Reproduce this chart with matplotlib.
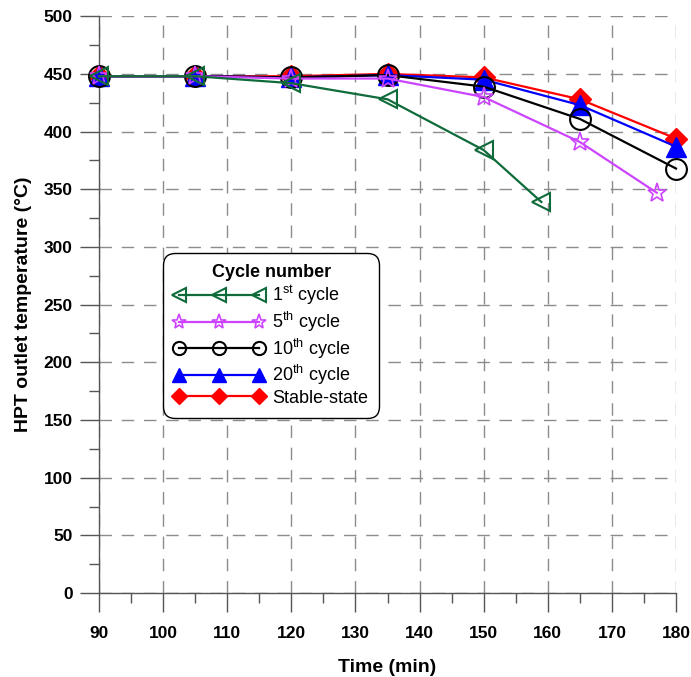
import matplotlib
matplotlib.use("Agg")
import matplotlib.pyplot as plt
from matplotlib.lines import Line2D

plt.rcParams['font.family'] = ['Liberation Sans', 'DejaVu Sans']
plt.rcParams['mathtext.fontset'] = 'custom'
plt.rcParams['mathtext.rm'] = 'Liberation Sans'

# Time stamps (min) and HPT outlet temperatures (°C) for each cycle
time_1st = [90, 105, 120, 135, 150, 159]
temp_1st = [448, 448, 442, 428, 384, 339]

time_5th = [90, 105, 120, 135, 150, 165, 177]
temp_5th = [448, 448, 446, 446, 430, 391, 347]

time_10th = [90, 105, 120, 135, 150, 165, 180]
temp_10th = [448, 448, 447, 449, 439, 411, 368]

time_20th = [90, 105, 120, 135, 150, 165, 180]
temp_20th = [448, 448, 447, 449, 445, 423, 387]

time_stable = [90, 105, 120, 135, 150, 165, 180]
temp_stable = [448, 448, 448, 450, 447, 428, 394]

labels = [r"1$^{\rm st}$ cycle", r"5$^{\rm th}$ cycle", r"10$^{\rm th}$ cycle",
          r"20$^{\rm th}$ cycle", "Stable-state"]

GREEN, PURPLE, BLACK, BLUE, RED = '#0f6b3a', '#cc44ff', 'black', '#0000ff', '#ff0000'

fig = plt.figure(figsize=(6.91, 6.77), dpi=100)
ax = fig.add_axes([0.1433, 0.124, 0.835, 0.852])

lw = 1.6
ax.plot(time_stable, temp_stable, color=RED, lw=lw, marker='D', ms=11,
        mfc=RED, mec=RED, zorder=3, clip_on=False)
ax.plot(time_20th, temp_20th, color=BLUE, lw=lw, marker='^', ms=14,
        mfc=BLUE, mec=BLUE, zorder=4, clip_on=False)
ax.plot(time_10th, temp_10th, color=BLACK, lw=lw, marker='o', ms=15,
        mfc='none', mec=BLACK, mew=1.5, zorder=5, clip_on=False)
ax.plot(time_5th, temp_5th, color=PURPLE, lw=lw, marker='*', ms=14,
        mfc='none', mec=PURPLE, mew=1.2, zorder=6, clip_on=False)
ax.plot(time_1st, temp_1st, color=GREEN, lw=lw, marker='<', ms=13,
        mfc='none', mec=GREEN, mew=1.5, zorder=7, clip_on=False)

# legend entries use smaller markers than the data
handles = [
    Line2D([], [], color=GREEN, lw=lw, marker='<', ms=10.5, mfc='none', mec=GREEN, mew=1.5),
    Line2D([], [], color=PURPLE, lw=lw, marker='*', ms=11, mfc='none', mec=PURPLE, mew=1.2),
    Line2D([], [], color=BLACK, lw=lw, marker='o', ms=9.5, mfc='none', mec=BLACK, mew=1.5),
    Line2D([], [], color=BLUE, lw=lw, marker='^', ms=10.5, mfc=BLUE, mec=BLUE),
    Line2D([], [], color=RED, lw=lw, marker='D', ms=8.5, mfc=RED, mec=RED),
]

ax.set_xlim(90, 180)
ax.set_ylim(0, 500)
ax.set_xticks(range(90, 181, 10))
ax.set_yticks(range(0, 501, 50))
ax.set_xticks(range(95, 180, 10), minor=True)
ax.set_yticks(range(25, 500, 50), minor=True)

ax.grid(True, which='major', color='#8c8c8c', ls=(0, (9, 7)), lw=1.0)
ax.set_axisbelow(True)

for side in ('top', 'right'):
    ax.spines[side].set_visible(False)
for side in ('left', 'bottom'):
    ax.spines[side].set_color('#555555')
    ax.spines[side].set_linewidth(1.0)

ax.tick_params(which='major', direction='out', length=14, width=1.0,
               color='#555555', labelsize=12.5)
ax.tick_params(axis='x', which='major', pad=9.5)
ax.tick_params(axis='y', which='major', pad=5)
ax.tick_params(which='minor', direction='out', length=7, width=1.0,
               color='#555555')
for lab in ax.get_xticklabels() + ax.get_yticklabels():
    lab.set_fontweight('bold')

ax.set_xlabel("Time (min)", fontsize=14, fontweight='bold', labelpad=13)
ax.set_ylabel("HPT outlet temperature (°C)", fontsize=14, fontweight='bold', labelpad=8)

leg = ax.legend(handles, labels, numpoints=3,
                title="Cycle number", loc='upper left',
                bbox_to_anchor=(0.111, 0.589), fontsize=13,
                title_fontproperties={'weight': 'bold', 'size': 13},
                frameon=True, fancybox=True, edgecolor='black',
                handlelength=5.0, labelspacing=0.14,
                borderpad=0.6, borderaxespad=0, handletextpad=0.45,
                framealpha=1)
leg.get_frame().set_linewidth(1.0)
leg.get_frame().set_boxstyle('round', pad=0, rounding_size=0.65)
leg.set_zorder(10)

fig.savefig("out.png", dpi=100)
